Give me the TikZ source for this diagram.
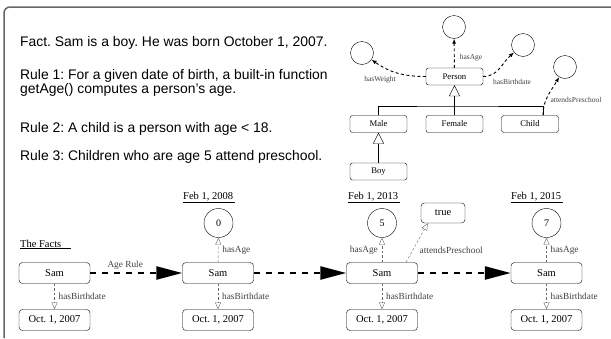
\documentclass[tikz,border=0pt]{standalone}
\usepackage{fontspec}
\setmainfont{Liberation Serif}
\newfontfamily\rulefont{Liberation Sans}
\usetikzlibrary{arrows.meta,positioning}
\frenchspacing

\begin{document}
\begin{tikzpicture}[x=1pt, y=1pt,
    rule/.style={anchor=base west, inner sep=0pt, font=\rulefont\fontsize{13.9}{16}\selectfont},
    cls/.style={draw, rounded corners=2.5pt, minimum width=57pt, minimum height=17pt, inner sep=0pt, font=\fontsize{8.7}{10}\selectfont},
    slot/.style={circle, draw, minimum size=23pt, inner sep=0pt},
    olbl/.style={inner sep=1pt, font=\fontsize{7.5}{9}\selectfont, text=black!75},
    has/.style={line width=0.9pt, dash pattern=on 3pt off 2.5pt, -{Latex[length=5pt, width=4pt]}},
    inherit/.style={-{Triangle[open, length=11pt, width=11pt]}},
    fact/.style={draw, rounded corners=3.5pt, minimum width=71pt, minimum height=21pt, inner sep=0pt, font=\fontsize{10.5}{12}\selectfont},
    val/.style={circle, draw, minimum size=29pt, inner sep=0pt, font=\fontsize{10}{12}\selectfont},
    lbl/.style={inner sep=1pt, font=\fontsize{9.3}{11}\selectfont, text=black!75},
    rel/.style={draw=black!60, dash pattern=on 2.5pt off 2pt, -{Triangle[open, length=7pt, width=6pt]}},
    nextstep/.style={line width=2.5pt, dash pattern=on 6pt off 6pt, -{Triangle[length=26pt, width=13pt]}},
    when/.style={anchor=base west, inner sep=0pt, font=\fontsize{10.5}{12}\selectfont}]
  \useasboundingbox (0,0) rectangle (611,-338);
  \draw[black!60, line width=1.5pt, rounded corners=6pt] (4,-338) -- (4,-7) -- (611,-7);

  % the rules
  \node[rule] (fact) at (20,-46) {Fact. Sam is a boy. He was born October 1, 2007.};
  \node[rule] (rule1) at (20,-79) {Rule 1: For a given date of birth, a built-in function};
  \node[rule] (rule1b) at (20,-93.5) {getAge() computes a person’s age.};
  \node[rule] (rule2) at (20,-132) {Rule 2: A child is a person with age < 18.};
  \node[rule] (rule3) at (20,-160) {Rule 3: Children who are age 5 attend preschool.};

  % the ontology
  \node[slot] (agep) at (454,-27) {};
  \node[slot] (weight) at (362,-53) {};
  \node[slot] (birth) at (523,-45) {};
  \node[slot] (pre) at (565,-67) {};
  \node[cls] (person) at (454.5,-76.5) {Person};
  \node[cls] (male) at (378.5,-124) {Male};
  \node[cls] (female) at (454.5,-124) {Female};
  \node[cls] (child) at (530,-124) {Child};
  \node[cls] (boy) at (378.5,-171.5) {Boy};
  \coordinate (bar) at (454.5,-106);
  \draw[has] (person) -- node[olbl, right=4pt, pos=0.35] {hasAge} (agep);
  \draw[has] (person.west) to[out=180, in=-35] (weight);
  \draw[has] (person.east) to[out=0, in=-140] (birth);
  \draw[has] ([xshift=13pt]child.north) to[out=90, in=-120] (pre);
  \node[olbl] (wlbl) at (380,-80) {hasWeight};
  \node[olbl] (blbl) at (512,-82) {hasBirthdate};
  \node[olbl] (plbl) at (576,-100) {attendsPreschool};
  \draw[inherit] (female) -- (person);
  \draw[inherit] (boy) -- (male);
  \draw (male.north) |- (bar) -| ([xshift=13pt]child.north);

  % the facts over time
  \node[when] (facts) at (20,-247) {\underline{The Facts\hspace{10pt}}};
  \node[when] (t2) at (183,-199) {\underline{Feb 1, 2008\hspace{2pt}}};
  \node[when] (t3) at (348,-199) {\underline{Feb 1, 2013\hspace{2pt}}};
  \node[when] (t4) at (511,-199) {\underline{Feb 1, 2015\hspace{2pt}}};

  \node[fact] (sam1) at (54.5,-273) {Sam};
  \node[fact] (dob1) at (54.5,-320) {Oct. 1, 2007};
  \node[fact] (sam2) at (218,-273) {Sam};
  \node[fact] (dob2) at (218,-320) {Oct. 1, 2007};
  \node[val] (age0) at (218.5,-223) {0};
  \node[fact] (sam3) at (382,-273) {Sam};
  \node[fact] (dob3) at (382,-320) {Oct. 1, 2007};
  \node[val] (age5) at (382,-223) {5};
  \node[fact, minimum width=44pt, minimum height=20pt] (true) at (443,-213) {true};
  \node[fact] (sam4) at (546.5,-273) {Sam};
  \node[fact] (dob4) at (546.5,-320) {Oct. 1, 2007};
  \node[val] (age7) at (546.5,-223) {7};

  \draw[rel] (sam1) -- node[lbl, right=3pt] {hasBirthdate} (dob1);
  \draw[rel] (sam2) -- node[lbl, right=3pt] {hasBirthdate} (dob2);
  \draw[rel] (sam3) -- node[lbl, right=3pt] {hasBirthdate} (dob3);
  \draw[rel] (sam4) -- node[lbl, right=3pt] {hasBirthdate} (dob4);
  \draw[rel] (sam2) -- node[lbl, right=3pt] {hasAge} (age0);
  \draw[rel] (sam3) -- node[lbl, left=3pt] {hasAge} (age5);
  \draw[rel] (sam4) -- node[lbl, right=3pt] {hasAge} (age7);
  \draw[rel] ([xshift=24pt]sam3.north) -- node[lbl, right=6pt, pos=0.3] {attendsPreschool} ([xshift=7pt]true.south west);

  \draw[nextstep] (sam1) -- node[lbl, above=1pt, pos=0.38] {Age Rule} (sam2);
  \draw[nextstep] (sam2) -- (sam3);
  \draw[nextstep] (sam3) -- (sam4);
\end{tikzpicture}
\end{document}
